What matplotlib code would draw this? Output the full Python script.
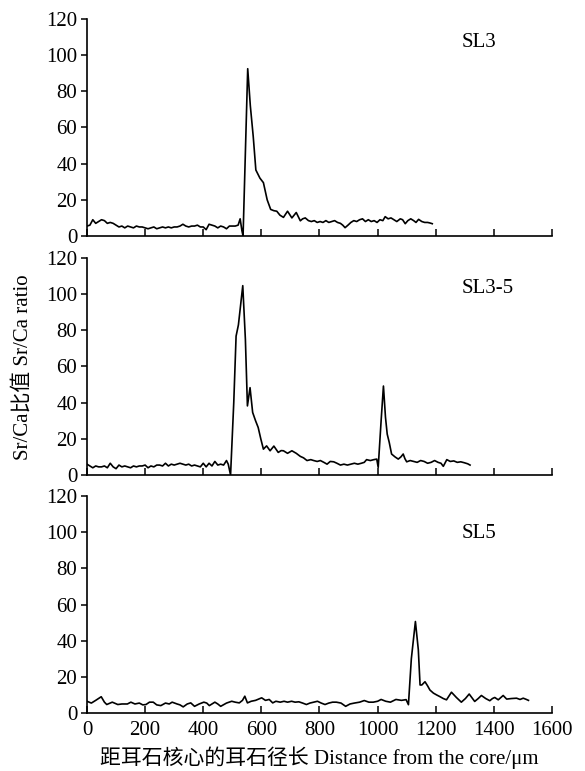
import matplotlib
matplotlib.use('Agg')
import matplotlib.pyplot as plt

plt.rcParams['font.family'] = ['Liberation Serif', 'Noto Sans CJK SC']
plt.rcParams['font.size'] = 15

# SL3 profile (distance in um, Sr/Ca ratio)
sl3_x = [0, 10, 20, 30, 40, 50, 60, 70, 80, 90, 100, 110, 120, 130, 140, 150, 160, 170, 180, 190,
         200, 210, 220, 230, 240, 250, 260, 270, 280, 290, 300, 310, 320, 330, 340, 350, 360, 370,
         380, 390, 400, 410, 420, 430, 440, 450, 460, 470, 480, 490, 500, 510, 520, 527, 533, 537,
         553, 562, 572, 581, 595, 607, 620, 632, 643, 653, 664, 676, 690, 705, 720, 734, 742, 751,
         762, 772, 782, 792, 802, 812, 822, 832, 842, 852, 862, 872, 880, 888, 898, 908, 918, 928,
         938, 948, 958, 968, 978, 988, 998, 1008, 1018, 1026, 1036, 1046, 1056, 1066, 1078, 1086,
         1095, 1104, 1114, 1124, 1132, 1141, 1152, 1162, 1172, 1180, 1188]
sl3_y = [5.5, 6, 9, 7, 8, 9, 8.5, 7, 7.5, 7, 6, 5, 5.5, 4.5, 5.5, 5, 4.5, 5.5, 5, 5,
         4.5, 4, 4.5, 5, 4, 4.5, 5, 4.5, 5, 4.5, 5, 5, 5.5, 6.5, 5.5, 5, 5.5, 5.5,
         6, 5, 5, 3.5, 6.5, 6, 5.5, 4.5, 5.5, 5, 4, 5.5, 5.5, 5.5, 6, 9.5, 3, 0,
         92.5, 72, 55, 36.5, 32, 29.5, 20, 14.7, 14, 13.7, 11.5, 10.3, 13.7, 10, 13, 8.4, 9.5, 10,
         8.5, 8, 8.5, 7.5, 8, 7.5, 8.5, 7.5, 8, 8.5, 7.5, 7, 6, 4.6, 6, 7.5, 8.5, 8,
         9, 9.5, 8, 9, 8, 8.5, 7.5, 9, 8.5, 10.7, 9.5, 10, 9, 8, 9.5, 9,
         6.8, 8.5, 9.5, 8.5, 7.5, 9.2, 8, 7.5, 7.5, 7.2, 6.8]

# SL3-5 profile
sl35_x = [0, 10, 20, 30, 40, 50, 60, 70, 80, 90, 100, 110, 120, 130, 140, 150, 160, 170, 180, 190,
          200, 210, 220, 230, 240, 250, 260, 270, 280, 290, 300, 310, 320, 330, 340, 350, 360, 370,
          380, 390, 400, 410, 420, 430, 440, 450, 460, 470, 480, 486, 494, 505, 513, 521, 536,
          545, 552, 561, 570, 580, 589, 598, 607, 618, 630, 643, 658, 668, 676, 690, 705, 720, 734,
          745, 757, 770, 780, 792, 803, 815, 826, 837, 849, 860, 872, 884, 896, 908, 920, 932, 944,
          954, 962, 975, 987, 997, 1002, 1012, 1020, 1027, 1033, 1040, 1048, 1060, 1071, 1080,
          1088, 1094, 1100, 1112, 1124, 1136, 1148, 1160, 1172, 1184, 1196, 1208, 1218, 1226, 1238,
          1250, 1262, 1274, 1286, 1298, 1310, 1318]
sl35_y = [6, 5, 4, 5, 4.5, 4.5, 5, 4, 6.5, 4.5, 3.5, 5.5, 4.5, 5, 4.5, 4, 5, 4.5, 5, 5,
          5.5, 4, 5, 4.5, 5.5, 5.5, 5, 6.5, 5, 6, 5.5, 6, 6.5, 6, 5.5, 6, 5, 5.5,
          5, 4.5, 6.5, 4.5, 6.5, 5, 7.5, 5.5, 6, 5.5, 8, 6, 0, 40, 76.8, 83, 104.7,
          75, 38.2, 48.3, 34.6, 30, 26.3, 20, 14.3, 16.1, 13.4, 16, 12.5, 13.5, 13.4, 12, 13.4, 12, 10.3,
          9.5, 8, 8.5, 8, 7.5, 8, 7, 6, 7.5, 7.3, 6.5, 5.5, 6, 5.5, 6, 6.5, 6, 6.5,
          7, 8.5, 8, 8.5, 8.8, 4.2, 30, 49.2, 32, 22.6, 18, 11.6, 10, 8.8, 10,
          11.6, 9, 7.3, 8, 7.5, 7, 8, 7.5, 6.5, 7, 8, 7, 6.5, 4.8, 8.5,
          7.5, 7.8, 7, 7.3, 6.8, 6.2, 5.5]

# SL5 profile
sl5_x = [0, 15, 30, 49, 60, 68, 87, 106, 120, 139, 151, 165, 180, 192, 203, 215, 228, 240, 254,
         270, 283, 293, 310, 320, 331, 345, 357, 370, 386, 402, 412, 421, 440, 450, 460, 480, 498,
         510, 524, 535, 543, 552, 565, 580, 601, 614, 627, 639, 650, 665, 678, 690, 704, 716, 729,
         742, 755, 767, 780, 793, 806, 819, 832, 845, 858, 874, 890, 905, 920, 938, 954, 970, 985,
         1000, 1012, 1028, 1044, 1063, 1082, 1098, 1106, 1116, 1130, 1140, 1146, 1152, 1163, 1172,
         1180, 1192, 1203, 1215, 1226, 1237, 1254, 1271, 1288, 1302, 1315, 1334, 1346, 1357, 1372,
         1386, 1395, 1403, 1415, 1432, 1444, 1460, 1478, 1490, 1501, 1512, 1519]
sl5_y = [6.5, 5.5, 7, 9, 6, 4.7, 6, 4.7, 5, 5, 6, 5, 5.5, 4.5, 4.7, 6, 6, 4.5, 4.1,
         5.5, 5, 6, 5, 4.5, 3.4, 5, 5.6, 3.7, 5, 6, 5.5, 4.1, 6, 5, 3.7, 5.5, 6.5,
         6, 5.6, 7, 9.3, 5.6, 6.5, 7, 8.4, 7, 7.5, 5.6, 6.5, 6, 6.5, 6, 6.5, 6, 6.2,
         5.5, 4.7, 5.5, 6, 6.5, 5.5, 4.7, 5.5, 6, 6, 5.5, 3.7, 5, 5.5, 6, 6.9, 6, 6,
         6.5, 7.5, 6.5, 6, 7.5, 7, 7.4, 4.6, 30, 50.6, 35, 15.5, 15.5, 17.3, 15,
         12.7, 11, 10, 9, 8, 7.3, 11.5, 8.6, 6, 8, 10.5, 6.4, 8, 9.7, 8,
         6.8, 8, 8.6, 7.3, 9.7, 7.7, 8, 8.2, 7.5, 8.2, 7.5, 7]

series = [(sl3_x, sl3_y, 'SL3'), (sl35_x, sl35_y, 'SL3-5'), (sl5_x, sl5_y, 'SL5')]

fig = plt.figure(figsize=(5.85, 7.71), dpi=100)
left, width, height = 0.1487, 0.7949, 0.2815
bottoms = [0.6939, 0.3839, 0.0752]

axes = []
for (xs, ys, name), b in zip(series, bottoms):
    ax = fig.add_axes([left, b, width, height])
    ax.plot(xs, ys, color='black', lw=1.2)
    ax.set_xlim(0, 1600)
    ax.set_ylim(0, 120)
    ax.set_xticks(range(0, 1601, 200))
    ax.set_yticks(range(0, 121, 20))
    ax.spines['top'].set_visible(False)
    ax.spines['right'].set_visible(False)
    for s in ('left', 'bottom'):
        ax.spines[s].set_linewidth(1.2)
    ax.tick_params(axis='x', direction='in', length=5, width=1.1, pad=6)
    ax.tick_params(axis='y', direction='out', length=4, width=1.1, pad=3)
    ax.text(1290, [107, 103, 99.5][len(axes)], name, ha='left', va='center', fontsize=15)
    axes.append(ax)

for ax in axes[:2]:
    ax.set_xticklabels([])

axes[2].set_xlabel('距耳石核心的耳石径长 Distance from the core/μm', fontsize=15, labelpad=4)
fig.text(0.038, 1 - 367 / 771, 'Sr/Ca比值 Sr/Ca ratio', rotation=90, ha='center', va='center',
         fontsize=15)

fig.savefig('out.png', dpi=100)
